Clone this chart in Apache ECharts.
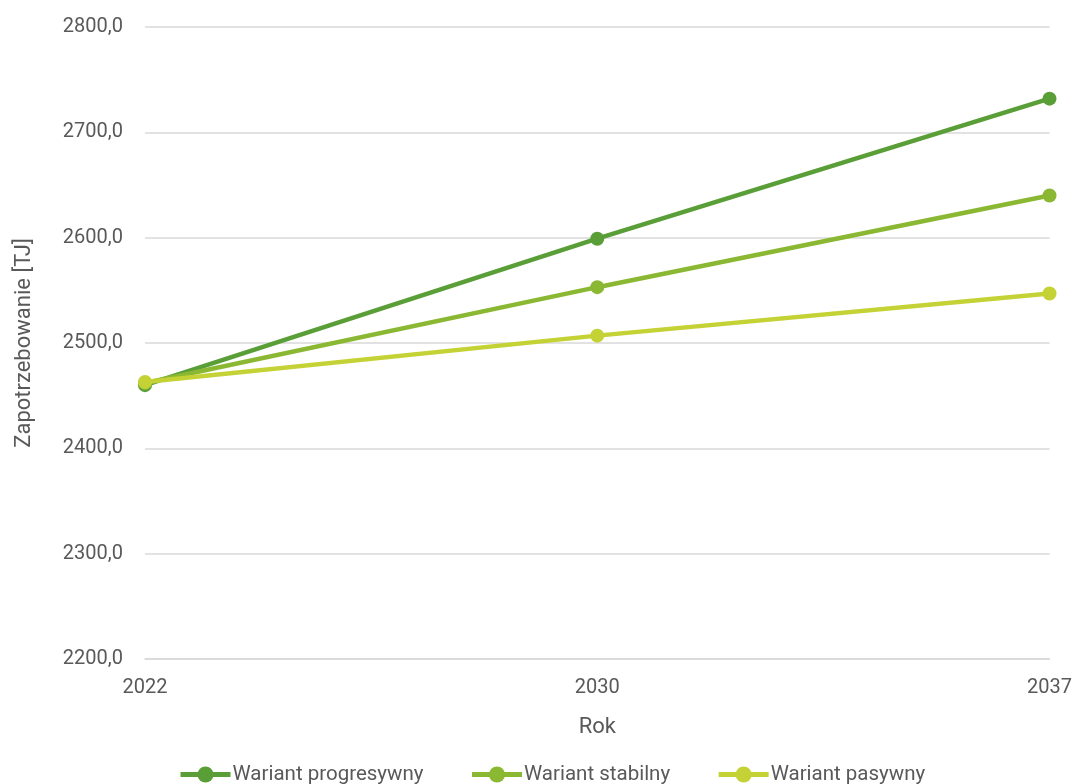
<!DOCTYPE html>
<html><head><meta charset="utf-8">
<script src="https://cdn.jsdelivr.net/npm/echarts@6/dist/echarts.min.js"></script>
<style>html,body{margin:0;padding:0;background:#fff}#c{width:1075px;height:784px}</style>
</head><body><div id="c"></div>
<script>
const categories = ['2022', '2030', '2037'];
const progresywny = [2460, 2599, 2732];
const stabilny = [2462, 2553, 2640];
const pasywny = [2463, 2507, 2547];
const seriesNames = ['Wariant progresywny', 'Wariant stabilny', 'Wariant pasywny'];
const colors = ['#5A9E38', '#8BB833', '#C4D235'];

const chart = echarts.init(document.getElementById('c'));
const font = 'Roboto, "Open Sans", sans-serif';
const mk = (name, data, color, z) => ({
  name, type: 'line', data, z,
  symbol: 'circle', symbolSize: 14,
  lineStyle: { width: 4.5, color },
  itemStyle: { color },
  emphasis: { disabled: true }
});
chart.setOption({
  animation: false,
  grid: { left: 145, right: 25, top: 27, bottom: 125 },
  xAxis: {
    type: 'category', data: categories, boundaryGap: false,
    name: 'Rok', nameLocation: 'middle', nameGap: 57,
    nameTextStyle: { fontFamily: font, fontSize: 22, color: '#595959' },
    axisLine: { show: true, lineStyle: { color: '#d9d9d9', width: 1.5 } },
    axisTick: { show: false },
    axisLabel: { fontFamily: font, fontSize: 20, color: '#595959', margin: 19 }
  },
  yAxis: {
    type: 'value', min: 2200, max: 2800, interval: 100,
    name: 'Zapotrzebowanie [TJ]', nameLocation: 'middle', nameGap: 110,
    nameTextStyle: { fontFamily: font, fontSize: 22, color: '#595959' },
    axisLine: { show: false }, axisTick: { show: false },
    splitLine: { lineStyle: { color: '#d9d9d9', width: 1.5 } },
    axisLabel: { fontFamily: font, fontSize: 20, color: '#595959', margin: 22,
      formatter: v => v.toFixed(1).replace('.', ',') }
  },
  legend: {
    top: 764, left: 178, padding: 0, itemWidth: 50, itemHeight: 20, itemGap: 46,
    lineStyle: { width: 5 },
    textStyle: { fontFamily: font, fontSize: 20.5, color: '#595959', padding: [0,0,0,-3] },
    data: seriesNames
  },
  series: [
    mk(seriesNames[0], progresywny, colors[0], 3),
    mk(seriesNames[1], stabilny, colors[1], 4),
    mk(seriesNames[2], pasywny, colors[2], 5)
  ]
});
</script></body></html>
